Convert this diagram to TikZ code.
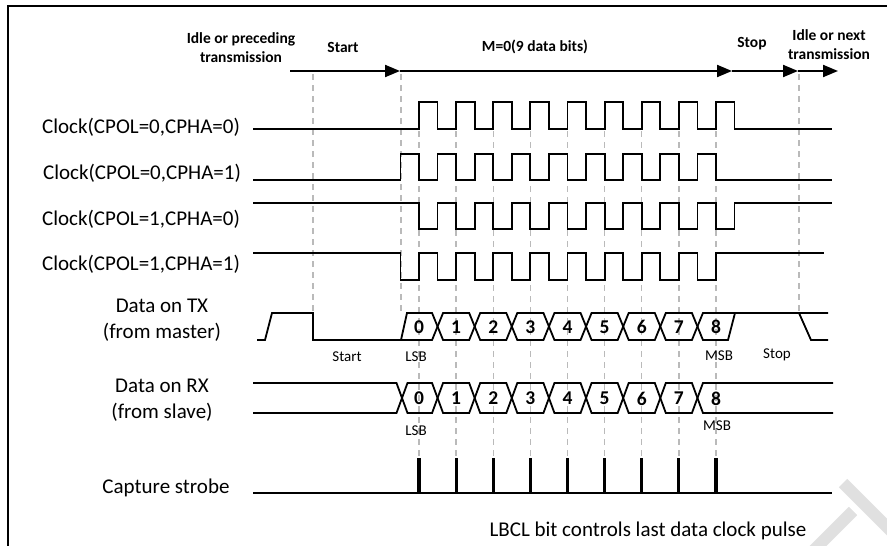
\documentclass[tikz,border=0pt]{standalone}
\usepackage{fontspec}
\setmainfont{Carlito}
\usetikzlibrary{arrows.meta}
\tikzset{
  sig/.style={line width=1.8pt, line join=miter, line cap=butt},
  guide/.style={line width=1.4pt, draw=black!27, dash pattern=on 6pt off 5pt},
  frame/.style={line width=2pt},
  arr/.style={line width=2pt, -{Triangle[length=15pt,width=12pt]}},
  rowlabel/.style={font=\fontsize{21}{26}\selectfont, align=center, inner sep=0pt},
  toplabel/.style={font=\fontsize{15.5}{19}\selectfont\bfseries, align=center, inner sep=0pt},
  smalllabel/.style={font=\fontsize{15}{18}\selectfont, inner sep=0pt},
  digit/.style={font=\fontsize{19.5}{22}\selectfont\bfseries, inner sep=0pt},
  strobe/.style={line width=3.2pt},
  wmark/.style={line width=12pt, draw=black!12}
}
\begin{document}
\begin{tikzpicture}[x=1pt,y=-1pt]
\useasboundingbox (0,0) rectangle (887,546);
\def\p{37.125}
\def\h{18.5625}
\def\w{5.5}
% watermark
\draw[wmark] (843,483) -- (893,533);
\draw[wmark] (810,554) -- (853,511);
% frame
\draw[frame] (8,546) -- (8,6) -- (887,6);
% guides
\foreach \gx in {313,401,799} \draw[guide] (\gx,74) -- (\gx,313);
\foreach \k in {0,...,8} \draw[guide] ({419+\k*\p},131) -- ({419+\k*\p},458);
% top arrow
\coordinate (a0) at (290,71);
\coordinate (a1) at (400,71);
\coordinate (a2) at (732,71);
\coordinate (a3) at (798,71);
\coordinate (a4) at (838,71);
\draw[arr] (a0) -- (a1);
\draw[arr] (a1) -- (a2);
\draw[arr] (a2) -- (a3);
\draw[arr] (a3) -- (a4);
% top labels
\node[toplabel] (lidle) at (241,48) {Idle or preceding\\transmission};
\node[toplabel] (lstart) at (343,47) {Start};
\node[toplabel] (lm) at (535,47) {M=0(9 data bits)};
\node[toplabel] (lstop) at (752,44) {Stop};
\node[toplabel] (lnext) at (829,45) {Idle or next\\transmission};
% row labels
\node[rowlabel] (c1) at (141,127) {Clock(CPOL=0,CPHA=0)};
\node[rowlabel] (c2) at (142,173) {Clock(CPOL=0,CPHA=1)};
\node[rowlabel] (c3) at (141,219) {Clock(CPOL=1,CPHA=0)};
\node[rowlabel] (c4) at (141,264) {Clock(CPOL=1,CPHA=1)};
\node[rowlabel] (tx) at (162,320) {Data on TX\\(from master)};
\node[rowlabel] (rx) at (162,400) {Data on RX\\(from slave)};
\node[rowlabel] (cs) at (166,488) {Capture strobe};
% clock 1 (CPOL=0,CPHA=0)
\draw[sig] (253,129) \foreach \k in {0,...,8} { -- ({419+\k*\p},129) -- ++(0,-27) -- ++(\h,0) -- ++(0,27) } -- (832,129);
% clock 2 (CPOL=0,CPHA=1)
\draw[sig] (253,180) \foreach \k in {0,...,8} { -- ({419-\h+\k*\p},180) -- ++(0,-26) -- ++(\h,0) -- ++(0,26) } -- (832,180);
% clock 3 (CPOL=1,CPHA=0)
\draw[sig] (253,203) \foreach \k in {0,...,8} { -- ({419+\k*\p},203) -- ++(0,26) -- ++(\h,0) -- ++(0,-26) } -- (832,203);
% clock 4 (CPOL=1,CPHA=1)
\draw[sig] (253,253) \foreach \k in {0,...,8} { -- ({419-\h+\k*\p},253) -- ++(0,27) -- ++(\h,0) -- ++(0,-27) } -- (824,253);
% TX data
\draw[sig] (257,340) -- (265,340) -- (272,313) -- (313,313) -- (313,340) -- (401,340) -- (407,313) -- ({419+\h-\w},313) -- ({419+\h},326.5) -- ({419+\h-\w},340) -- (401,340);
\foreach \k in {1,...,7} {
  \draw[sig] ({419+\h+(\k-1)*\p},326.5) -- ({419+\h+(\k-1)*\p+\w},313) -- ({419+\h+\k*\p-\w},313) -- ({419+\h+\k*\p},326.5) -- ({419+\h+\k*\p-\w},340) -- ({419+\h+(\k-1)*\p+\w},340) -- cycle;
}
\draw[sig] ({419+\h+7*\p},326.5) -- ({419+\h+7*\p+\w},313) -- (828,313);
\draw[sig] ({419+\h+7*\p},326.5) -- ({419+\h+7*\p+\w},340) -- (728,340) -- (735,313);
\draw[sig] (799,313) -- (811,340) -- (828,340);
% RX data
\draw[sig] (253,383) -- (396.5,383) -- (402,398) -- (396.5,413) -- (253,413);
\draw[sig] (402,398) -- (407.5,383) -- ({419+\h-\w},383) -- ({419+\h},398) -- ({419+\h-\w},413) -- (407.5,413) -- cycle;
\foreach \k in {1,...,7} {
  \draw[sig] ({419+\h+(\k-1)*\p},398) -- ({419+\h+(\k-1)*\p+\w},383) -- ({419+\h+\k*\p-\w},383) -- ({419+\h+\k*\p},398) -- ({419+\h+\k*\p-\w},413) -- ({419+\h+(\k-1)*\p+\w},413) -- cycle;
}
\draw[sig] ({419+\h+7*\p},398) -- ({419+\h+7*\p+\w},383) -- (833,383);
\draw[sig] ({419+\h+7*\p},398) -- ({419+\h+7*\p+\w},413) -- (833,413);
% digits
\foreach \k in {0,...,8} {
  \node[digit] (t\k) at ({419+\k*\p},327) {\k};
  \node[digit] (r\k) at ({419+\k*\p},398.5) {\k};
}
% small labels
\node[smalllabel] (sstart) at (347,357) {Start};
\node[smalllabel] (slsb) at (416,357) {LSB};
\node[smalllabel] (smsb) at (719,356) {MSB};
\node[smalllabel] (sstop) at (777,355) {Stop};
\node[smalllabel] (rlsb) at (416,431) {LSB};
\node[smalllabel] (rmsb) at (717,426) {MSB};
% capture strobe
\draw[sig] (253,493) -- (832,493);
\foreach \k in {0,...,8} \draw[strobe] ({419+\k*\p},458) -- ({419+\k*\p},493);
\node[rowlabel] (lbcl) at (648,531) {LBCL bit controls last data clock pulse};
\end{tikzpicture}
\end{document}
